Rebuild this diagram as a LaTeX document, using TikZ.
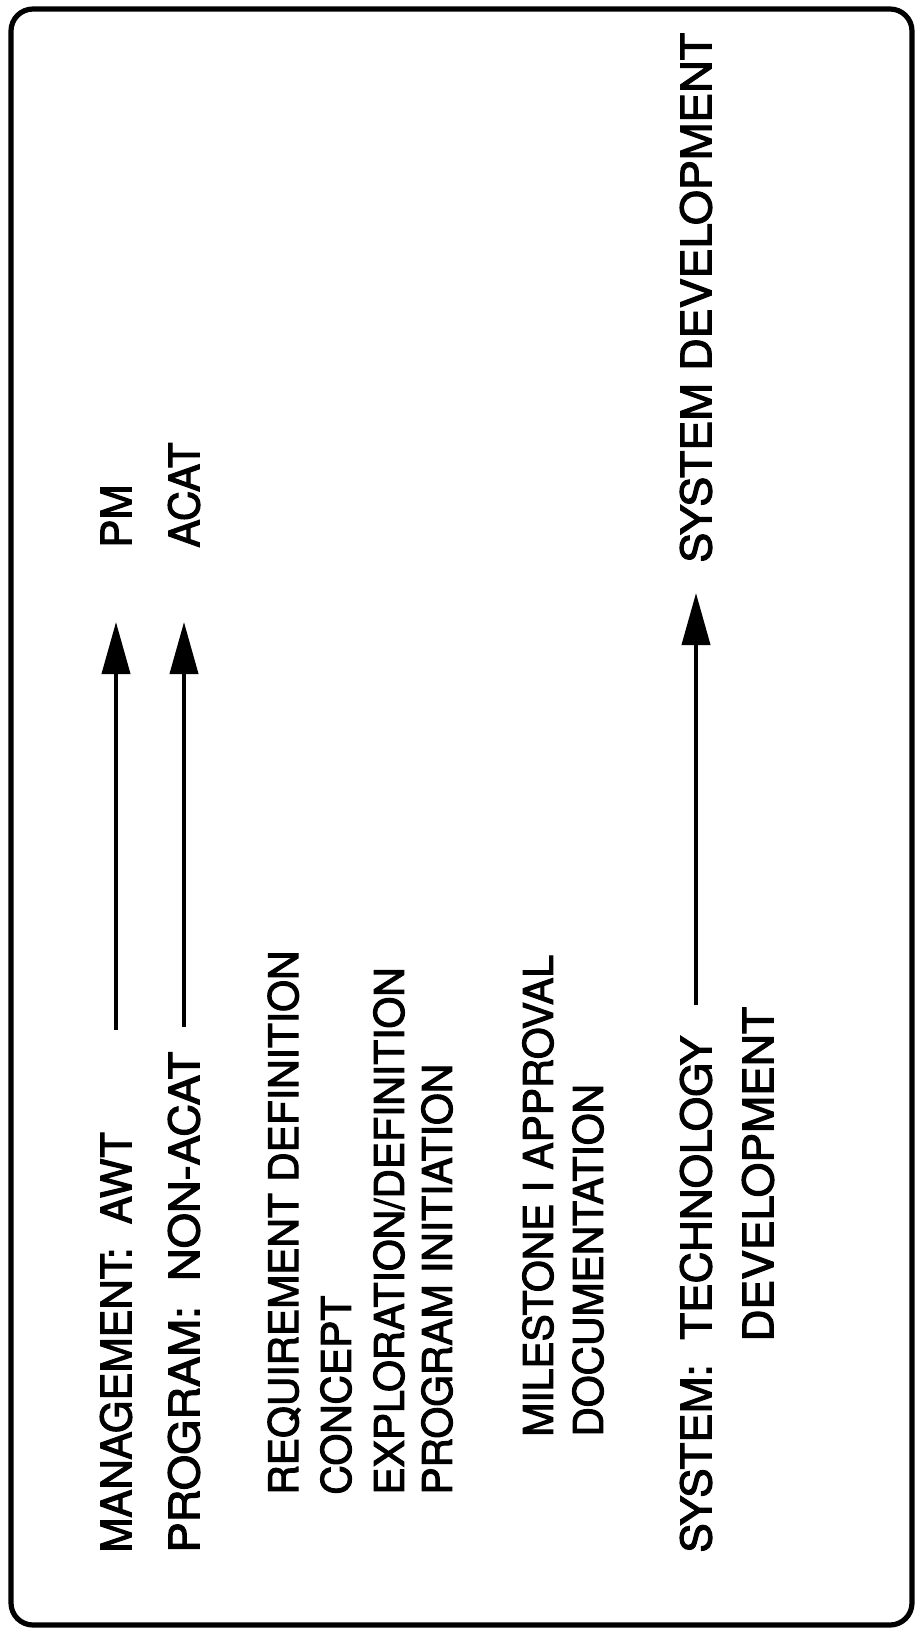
\documentclass[tikz,border=0pt]{standalone}
\usepackage{fontspec}
\setmainfont{TeX Gyre Heros}[FakeBold=2.5]
\usetikzlibrary{arrows.meta}
\tikzset{
  lbl/.style={rotate=90, anchor=west, inner sep=0pt,
              font=\fontsize{21}{25}\selectfont},
  phase/.style={lbl, font=\fontsize{20.4}{24}\selectfont},
  flow/.style={-{Triangle[length=26pt, width=14pt]}, line width=2pt},
  frame/.style={line width=2.6pt, rounded corners=11pt},
}
\begin{document}
\begin{tikzpicture}[x=0.5pt, y=-0.5pt]
  \useasboundingbox (0,0) rectangle (921,1633);
  \draw[frame] (11,9) rectangle (912,1625);

  % management / program rows
  \node[lbl] (mgmt) at (116,1553) {MANAGEMENT:\ \ AWT};
  \node[lbl, xscale=1.08] (prog) at (184,1553) {PROGRAM:\ \ NON-ACAT};
  \node[lbl] (pm)   at (116,548)  {PM};
  \node[lbl] (acat) at (184,548)  {ACAT};
  \draw[flow, shorten <=51pt, shorten >=37pt] (mgmt) -- (pm);
  \draw[flow, shorten <=12pt, shorten >=37pt] (prog) -- (acat);

  % phase activities
  \node[phase] (req)  at (284,1495) {REQUIREMENT DEFINITION};
  \node[phase] (cpt)  at (336,1495) {CONCEPT};
  \node[phase] (expl) at (389,1495) {EXPLORATION/DEFINITION};
  \node[phase] (init) at (437,1495) {PROGRAM INITIATION};
  \node[phase] (mile) at (538,1437) {MILESTONE I APPROVAL};
  \node[phase] (docu) at (588,1437) {DOCUMENTATION};

  % system row
  \node[lbl, xscale=1.05] (sys)  at (696,1553) {SYSTEM:\ \ TECHNOLOGY};
  \node[lbl, xscale=1.06] (dev)  at (758,1342) {DEVELOPMENT};
  \node[lbl, xscale=1.07] (sdev) at (696,563)  {SYSTEM DEVELOPMENT};
  \draw[flow, shorten <=15pt, shorten >=15pt] (sys) -- (sdev);
\end{tikzpicture}
\end{document}
